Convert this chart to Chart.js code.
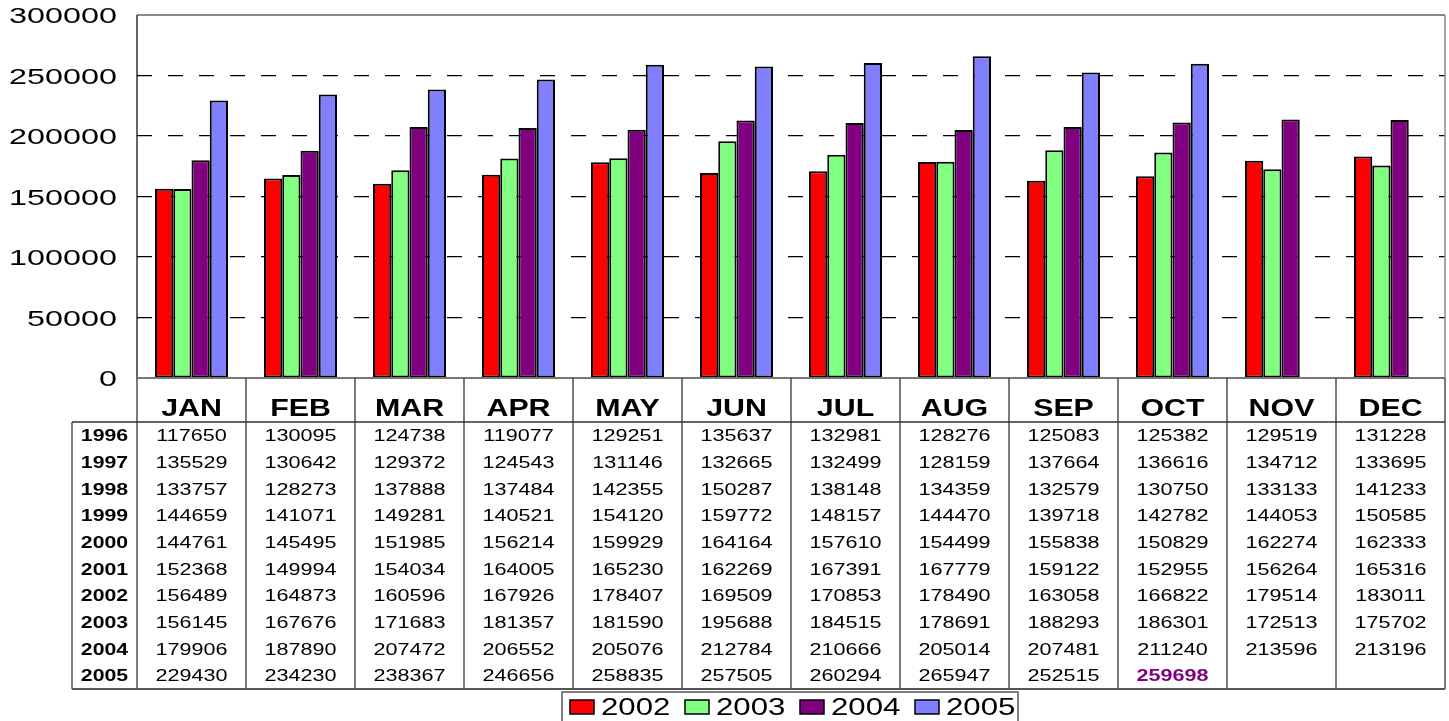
<!DOCTYPE html>
<html><head><meta charset="utf-8">
<script src="https://cdn.jsdelivr.net/npm/chart.js@4"></script>
<style>html,body{margin:0;padding:0;background:#fff;overflow:hidden}canvas{display:block}</style>
</head><body>
<canvas id="c" width="1449" height="721"></canvas>
<script>
const months = ['JAN','FEB','MAR','APR','MAY','JUN','JUL','AUG','SEP','OCT','NOV','DEC'];
const tableYears = ['1996','1997','1998','1999','2000','2001','2002','2003','2004','2005'];
const v1996 = [117650,130095,124738,119077,129251,135637,132981,128276,125083,125382,129519,131228];
const v1997 = [135529,130642,129372,124543,131146,132665,132499,128159,137664,136616,134712,133695];
const v1998 = [133757,128273,137888,137484,142355,150287,138148,134359,132579,130750,133133,141233];
const v1999 = [144659,141071,149281,140521,154120,159772,148157,144470,139718,142782,144053,150585];
const v2000 = [144761,145495,151985,156214,159929,164164,157610,154499,155838,150829,162274,162333];
const v2001 = [152368,149994,154034,164005,165230,162269,167391,167779,159122,152955,156264,165316];
const v2002 = [156489,164873,160596,167926,178407,169509,170853,178490,163058,166822,179514,183011];
const v2003 = [156145,167676,171683,181357,181590,195688,184515,178691,188293,186301,172513,175702];
const v2004 = [179906,187890,207472,206552,205076,212784,210666,205014,207481,211240,213596,213196];
const v2005 = [229430,234230,238367,246656,258835,257505,260294,265947,252515,259698,null,null];
const tableRows = [v1996,v1997,v1998,v1999,v2000,v2001,v2002,v2003,v2004,v2005];
const seriesLabels = ['2002','2003','2004','2005'];
const seriesValues = [v2002,v2003,v2004,v2005];
const seriesColors = ['#FF0000','#80FF80','#800080','#8080FF'];
const yMin = 0, yMax = 300000, yStep = 50000;
const highlightRow = 9, highlightCol = 9;

const FONT = '"Liberation Sans", Arial, sans-serif';
function sText(ctx, txt, x, y, sx, align) {
  ctx.save(); ctx.translate(x, y); ctx.scale(sx, 1);
  ctx.textAlign = align; ctx.textBaseline = 'middle';
  ctx.fillText(txt, 0, 0); ctx.restore();
}
function line(ctx, x1, y1, x2, y2, color, w) {
  ctx.save(); ctx.strokeStyle = color; ctx.lineWidth = w; ctx.setLineDash([]);
  ctx.beginPath(); ctx.moveTo(x1, y1); ctx.lineTo(x2, y2); ctx.stroke(); ctx.restore();
}

const framePlugin = {
  id: 'frame',
  beforeDraw(chart) {
    const {ctx, chartArea: a} = chart;
    line(ctx, a.left, a.top, a.right, a.top, '#8a8a8a', 2);
  },
  afterDraw(chart) {
    const {ctx, chartArea: a, scales} = chart;
    const x = scales.x, y = scales.y;
    line(ctx, a.left, a.top, a.left, a.bottom, '#000', 1.2);
    line(ctx, a.left, a.bottom, a.right, a.bottom, '#777', 2);
    ctx.fillStyle = '#000';
    ctx.font = '22px ' + FONT;
    y.ticks.forEach(t => {
      sText(ctx, String(t.value), a.left - 20, y.getPixelForValue(t.value) + 2, 1.47, 'right');
    });
    const colW = (a.right - a.left) / months.length;
    const headerBottom = a.bottom + 44;
    const rowH = 26.7;
    const tableBottom = headerBottom + rowH * tableRows.length;
    const labelLeft = 72;
    for (let k = 0; k <= months.length; k++) {
      const xx = a.left + colW * k;
      line(ctx, xx, a.bottom, xx, tableBottom, '#333', 1.3);
    }
    line(ctx, a.right, a.top, a.right, a.bottom, '#8a8a8a', 1.5);
    line(ctx, labelLeft, headerBottom, labelLeft, tableBottom, '#333', 1.3);
    line(ctx, labelLeft, headerBottom, a.right, headerBottom, '#333', 1.3);
    line(ctx, labelLeft, tableBottom, a.right, tableBottom, '#555', 2);
    ctx.font = 'bold 23px ' + FONT;
    ctx.fillStyle = '#000';
    months.forEach((m, i) => {
      sText(ctx, m, x.getPixelForValue(i), a.bottom + 32, 1.32, 'center');
    });
    tableRows.forEach((row, r) => {
      const cy = headerBottom + 14.5 + r * rowH;
      ctx.font = 'bold 17px ' + FONT;
      ctx.fillStyle = '#000';
      sText(ctx, tableYears[r], (labelLeft + a.left) / 2, cy, 1.25, 'center');
      row.forEach((v, i) => {
        if (v === null) return;
        if (r === highlightRow && i === highlightCol) {
          ctx.font = 'bold 17px ' + FONT; ctx.fillStyle = '#800080';
        } else {
          ctx.font = '17px ' + FONT; ctx.fillStyle = '#000';
        }
        sText(ctx, String(v), x.getPixelForValue(i), cy, 1.27, 'center');
      });
    });
    const lx = 562, ly = 692, lw = 456, lh = 34;
    ctx.save(); ctx.strokeStyle = '#555'; ctx.lineWidth = 1.5;
    ctx.strokeRect(lx, ly, lw, lh); ctx.restore();
    chart.data.datasets.forEach((ds, i) => {
      const bx = 570 + i * 115, by = 700;
      ctx.fillStyle = ds.backgroundColor;
      ctx.fillRect(bx, by, 24, 14);
      ctx.save(); ctx.strokeStyle = '#000'; ctx.lineWidth = 1.5; ctx.strokeRect(bx, by, 24, 14); ctx.restore();
      ctx.fillStyle = '#000';
      ctx.font = '24px ' + FONT;
      sText(ctx, ds.label, bx + 31, by + 8, 1.3, 'left');
    });
  }
};

new Chart(document.getElementById('c'), {
  type: 'bar',
  data: {
    labels: months,
    datasets: seriesLabels.map((lab, i) => ({
      label: lab,
      data: seriesValues[i],
      backgroundColor: seriesColors[i],
      borderColor: '#000',
      borderWidth: 2,
      borderSkipped: false,
      categoryPercentage: 0.67,
      barPercentage: 1.0
    }))
  },
  options: {
    responsive: false,
    animation: false,
    devicePixelRatio: 1,
    layout: {padding: {top: 15, right: 4, left: 0, bottom: 0}},
    plugins: {legend: {display: false}, tooltip: {enabled: false}},
    scales: {
      x: {
        grid: {display: false},
        border: {display: false},
        ticks: {display: false},
        afterFit(s) { s.height = 343; }
      },
      y: {
        min: yMin, max: yMax,
        ticks: {display: false, stepSize: yStep},
        grid: {color: ctx => (ctx.tick && (ctx.tick.value === yMin || ctx.tick.value === yMax)) ? 'rgba(0,0,0,0)' : '#000', lineWidth: 1.2, drawTicks: false},
        border: {display: false, dash: [15, 16]},
        afterFit(s) { s.width = 137; }
      }
    }
  },
  plugins: [framePlugin]
});
</script>
</body></html>
